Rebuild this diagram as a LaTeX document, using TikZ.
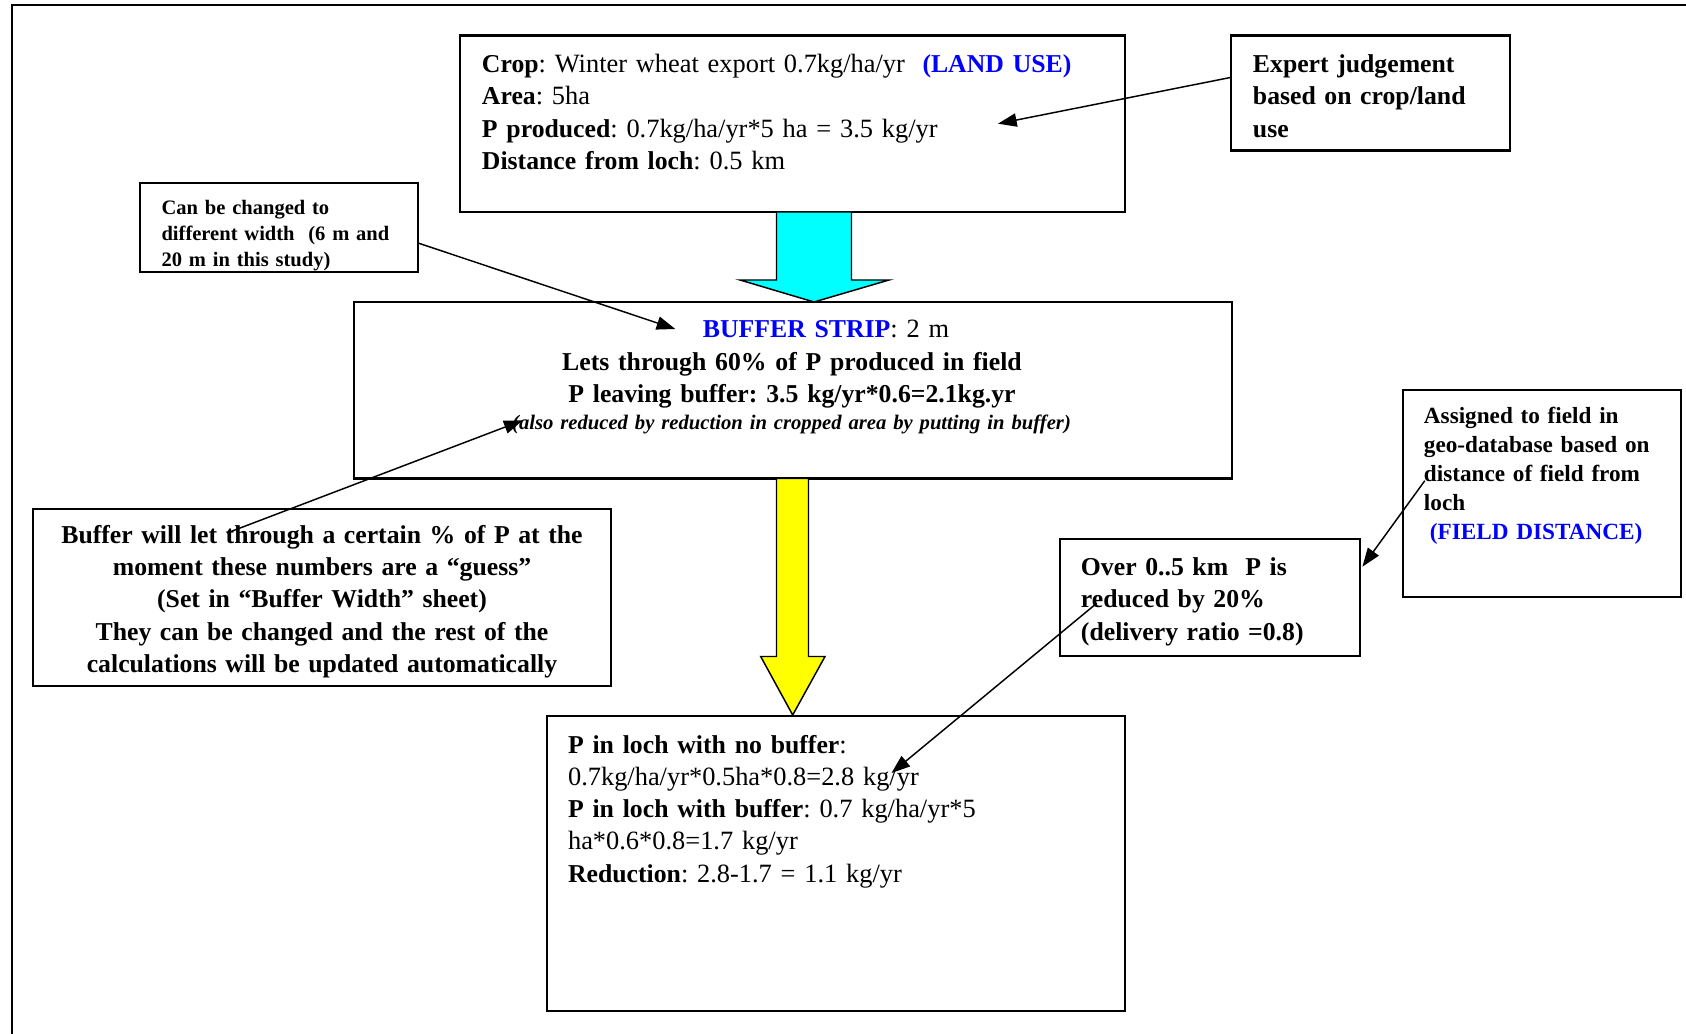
\documentclass[tikz,border=0pt]{standalone}
\usepackage{fontspec}
\setmainfont{Liberation Serif}
\usetikzlibrary{arrows.meta,fit}
\definecolor{landblue}{RGB}{0,0,255}
\definecolor{arrcyan}{RGB}{0,255,255}
\definecolor{arryellow}{RGB}{255,255,0}
\newcommand{\boldpart}[1]{{\fontsize{19.3}{24.2}\selectfont\bfseries #1}}
\begin{document}
\frenchspacing
\begin{tikzpicture}[x=0.75pt,y=-0.75pt,
  box/.style={draw=black,line width=1.6pt,inner sep=0pt,rectangle},
  txt/.style={inner sep=0pt,anchor=base west,align=left},
  ctxt/.style={inner sep=0pt,anchor=base,align=center},
  conn/.style={line width=1.1pt,-{Triangle[length=14pt,width=10pt]}},
  big/.style={font=\fontsize{19.8}{24.2}\selectfont},
  bigb/.style={font=\fontsize{19.3}{24.2}\selectfont\bfseries},
  small/.style={font=\fontsize{15.4}{19.4}\selectfont\bfseries},
  mid/.style={font=\fontsize{17.4}{21.6}\selectfont\bfseries},
  blockarrow/.style={draw=black,line width=1.1pt,line join=miter}
]
\useasboundingbox (0,0) rectangle (1686,1034);
\draw[line width=1.6pt] (12,1034) -- (12,5) -- (1686,5);

% boxes
\node[box, fit={(460,35.5) (1125,212)}] (top) {};
\node[box, fit={(1231,35.5) (1510,150.5)}] (expert) {};
\node[box, fit={(140,183) (418,272)}] (can) {};
\node[box, fit={(354,302) (1232,478.5)}] (buffer) {};
\node[box, fit={(33,509) (611,686)}] (will) {};
\node[box, fit={(1403,390) (1681,597)}] (assigned) {};
\node[box, fit={(1060,539) (1360,656)}] (over) {};
\node[box, fit={(547,716) (1125,1011)}] (bottom) {};

% texts
\node[txt, big, text width=600pt] (toptext) at (481.7,72.5) {%
\boldpart{Crop}: Winter wheat export 0.7kg/ha/yr\ \ \textcolor{landblue}{\boldpart{(LAND USE)}}\\
\boldpart{Area}: 5ha\\
\boldpart{P produced}: 0.7kg/ha/yr*5 ha = 3.5 kg/yr\\
\boldpart{Distance from loch}: 0.5 km};

\node[txt, bigb, text width=200pt] (experttext) at (1252.7,72.5) {%
Expert judgement\\based on crop/land\\use};

\node[txt, small, text width=200pt] (cantext) at (161.3,214.8) {%
Can be changed to\\different width\ \ (6 m and\\20 m in this study)};

\node[ctxt, big, text width=525pt] (buffertext) at (792,338) {%
\hspace*{51pt}\textcolor{landblue}{\boldpart{BUFFER STRIP}}: 2 m\\
\boldpart{Lets through 60\% of P produced in field}\\
\boldpart{P leaving buffer: 3.5 kg/yr*0.6=2.1kg.yr}};
\node[ctxt, font=\fontsize{15.5}{19.4}\selectfont\bfseries\itshape, text width=525pt] (bufferital) at (791.5,429.6) {%
(also reduced by reduction in cropped area by putting in buffer)};

\node[ctxt, bigb, text width=420pt] (willtext) at (322,543.4) {%
Buffer will let through a certain \% of P at the\\
moment these numbers are a “guess”\\
(Set in “Buffer Width” sheet)\\
They can be changed and the rest of the\\
calculations will be updated automatically};

\node[txt, mid, text width=200pt] (assignedtext) at (1423.7,424) {%
Assigned to field in\\geo-database based on\\distance of field from\\loch\\
\hspace*{4.5pt}\textcolor{landblue}{(FIELD DISTANCE)}};

\node[txt, bigb, text width=220pt] (overtext) at (1080.7,575.7) {%
Over 0..5 km\ \ P is\\reduced by 20\%\\(delivery ratio =0.8)};

\node[txt, big, text width=420pt] (bottomtext) at (567.8,753) {%
\boldpart{P in loch with no buffer}:\\
0.7kg/ha/yr*0.5ha*0.8=2.8 kg/yr\\
\boldpart{P in loch with buffer}: 0.7 kg/ha/yr*5\\
ha*0.6*0.8=1.7 kg/yr\\
\boldpart{Reduction}: 2.8-1.7 = 1.1 kg/yr};

% block arrows
\draw[blockarrow, fill=arrcyan]
  (776.5,212) -- (851.5,212) -- (851.5,280) -- (889,280) -- (814,302)
  -- (740,280) -- (776.5,280) -- cycle;
\draw[blockarrow, fill=arryellow]
  (776.5,478.5) -- (808.5,478.5) -- (808.5,656.5) -- (825,656.5) -- (792.7,715)
  -- (760.7,656.5) -- (776.5,656.5) -- cycle;

% connectors
\coordinate (e1) at (1231,77.4);
\coordinate (e2) at (998,123.7);
\coordinate (c1) at (418,243);
\coordinate (c2) at (675.3,329);
\coordinate (w1) at (227,533);
\coordinate (w2) at (522.6,420.4);
\coordinate (a1) at (1424.8,480.7);
\coordinate (a2) at (1362.4,566.7);
\coordinate (o1) at (1096.8,603.2);
\coordinate (o2) at (891.5,773);
\draw[conn] (e1) -- (e2);
\draw[conn] (c1) -- (c2);
\draw[conn] (w1) -- (w2);
\draw[conn] (a1) -- (a2);
\draw[conn] (o1) -- (o2);
\end{tikzpicture}
\end{document}
